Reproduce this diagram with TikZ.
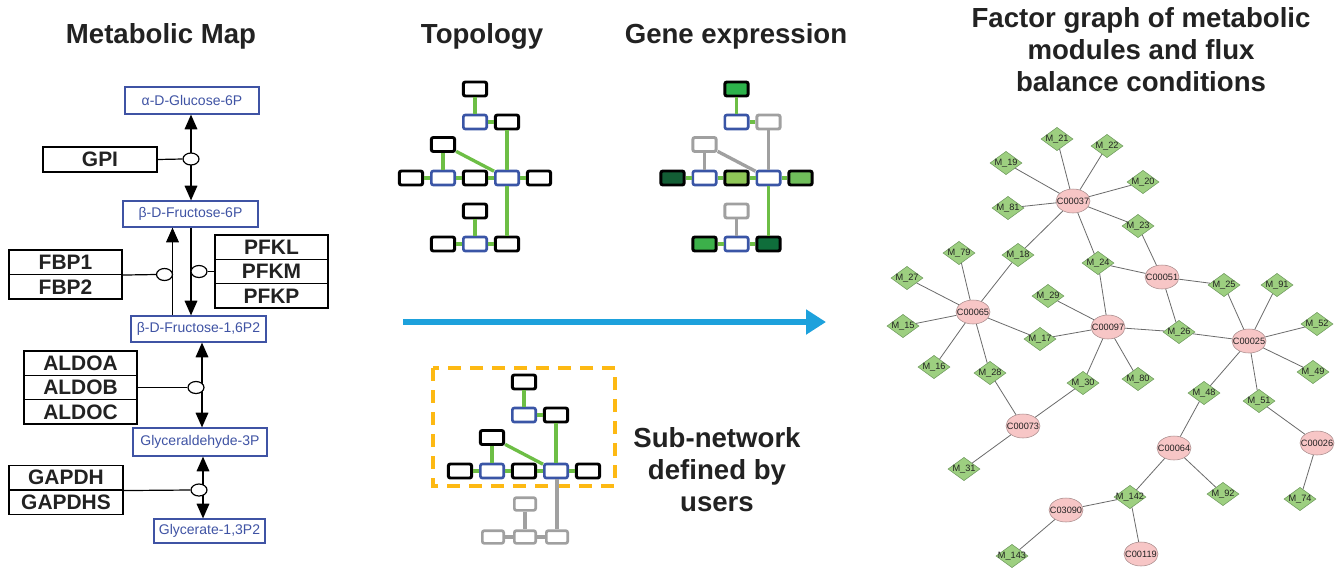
\documentclass[tikz,border=0pt]{standalone}
\usepackage{fontspec}
\setmainfont{Liberation Sans}
\usetikzlibrary{arrows.meta,shapes.geometric,calc}

\definecolor{ink}{HTML}{222222}
\definecolor{metblue}{HTML}{3F53A4}
\definecolor{nodeblue}{HTML}{3A55A6}
\definecolor{linkgreen}{HTML}{6DBE45}
\definecolor{linkgray}{HTML}{A0A0A0}
\definecolor{flowblue}{HTML}{1DA1DC}
\definecolor{userorange}{HTML}{FDB913}
\definecolor{modfill}{HTML}{9DCF80}
\definecolor{moddraw}{HTML}{6F9A5E}
\definecolor{cpdfill}{HTML}{F7C6C6}
\definecolor{cpddraw}{HTML}{A88C8C}
\definecolor{factoredge}{HTML}{6B6B6B}
\definecolor{exA}{HTML}{2DB34B}
\definecolor{exB}{HTML}{135E35}
\definecolor{exC}{HTML}{8FC757}
\definecolor{exD}{HTML}{6FBE5A}
\definecolor{exE}{HTML}{3CB04A}
\definecolor{exF}{HTML}{0F6E3B}

\tikzset{
  title/.style={font=\bfseries\fontsize{20.7}{24}\selectfont, text=ink, inner sep=0, align=center},
  metab/.style 2 args={draw=metblue, line width=0.9pt, fill=white, text=metblue,
    font=\fontsize{10.5}{12}\selectfont, inner sep=0,
    minimum width=#1*0.75pt, minimum height=#2*0.75pt},
  gene/.style 2 args={draw=black, line width=0.9pt, fill=white, text=ink,
    font=\bfseries\fontsize{15.7}{18}\selectfont, inner sep=0,
    minimum width=#1*0.75pt, minimum height=#2*0.75pt},
  enz/.style={ellipse, draw=black, line width=0.9pt, fill=white,
    minimum width=12pt, minimum height=9pt, inner sep=0},
  rxn/.style={draw=black, line width=0.9pt, >={Triangle[width=9.5pt,length=11pt]}},
  tbox/.style={rectangle, rounded corners=1.5pt, draw=black, line width=2.2pt, fill=white,
    minimum width=17.5pt, minimum height=10.5pt, inner sep=0},
  tblue/.style={tbox, draw=nodeblue, line width=2pt},
  tgray/.style={tbox, draw=linkgray},
  tsmall/.style={tbox, draw=linkgray, minimum width=16pt, minimum height=9.5pt, line width=2pt},
  glink/.style={draw=linkgreen, line width=2.5pt},
  ylink/.style={draw=linkgray, line width=2.5pt},
  fmod/.style={diamond, draw=moddraw, line width=0.4pt, fill=modfill,
    minimum width=24pt, minimum height=17.5pt, inner sep=0,
    font=\fontsize{6.9}{7}\selectfont, text=ink},
  fcpd/.style={ellipse, draw=cpddraw, line width=0.4pt, fill=cpdfill,
    minimum width=25.5pt, minimum height=18pt, inner sep=0,
    font=\fontsize{6.9}{7}\selectfont, text=ink},
  fedge/.style={draw=factoredge, line width=0.6pt}
}

\begin{document}
\begin{tikzpicture}[x=0.75pt,y=-0.75pt]
\fill[white] (0,0) rectangle (1343,569);
\useasboundingbox (0,0) rectangle (1343,569);

% ---------- headings ----------
\node[title, anchor=base] (hmap) at (161,43) {Metabolic Map};
\node[title, anchor=base] (htopo) at (482,43) {Topology};
\node[title, anchor=base] (hexpr) at (736,43) {Gene expression};
\node[title] (hfactor) at (1141,50) {Factor graph of metabolic\\modules and flux\\balance conditions};
\node[title] (hsub) at (717,470) {Sub-network\\defined by\\users};

% ---------- metabolic map: metabolites ----------
\node[metab={134}{27}] (glc) at (192,100.5) {α-D-Glucose-6P};
\node[metab={135}{26}] (f6p) at (190.5,214) {β-D-Fructose-6P};
\node[metab={135}{26}] (f16) at (198.5,329) {β-D-Fructose-1,6P2};
\node[metab={134}{28}] (g3p) at (200,442) {Glyceraldehyde-3P};
\node[metab={111}{24}] (g13) at (209.5,531) {Glycerate-1,3P2};

% ---------- metabolic map: enzymes ----------
\node[gene={114}{25}] (gpi) at (100,159.5) {GPI};
\node[gene={113}{24.5}] (fbp1) at (65.5,262.2) {FBP1};
\node[gene={113}{24.5}] (fbp2) at (65.5,286.7) {FBP2};
\node[gene={113}{24.3}] (pfkl) at (271.5,247.2) {PFKL};
\node[gene={113}{24.3}] (pfkm) at (271.5,271.5) {PFKM};
\node[gene={113}{24.3}] (pfkp) at (271.5,295.8) {PFKP};
\node[gene={113}{24.3}] (aldoa) at (80.5,363.2) {ALDOA};
\node[gene={113}{24.3}] (aldob) at (80.5,387.5) {ALDOB};
\node[gene={113}{24.3}] (aldoc) at (80.5,411.8) {ALDOC};
\node[gene={114}{24.5}] (gapdh) at (66,477.7) {GAPDH};
\node[gene={114}{24.5}] (gapdhs) at (66,502.2) {GAPDHS};

% reaction hubs and the axes of the reaction lines
\coordinate (cgpi) at (191,159);
\coordinate (cfbp) at (164.5,274.5);
\coordinate (cpfk) at (199,271.5);
\coordinate (caldo) at (196,387.5);
\coordinate (cgap) at (199,490);
\coordinate (fbpline) at (172.5,274.5);
\coordinate (pfkline) at (191,271.5);
\coordinate (aldoline) at (202,387.5);
\coordinate (gapline) at (203,490);

% reaction lines
\draw[rxn,<->] (cgpi |- glc.south) -- (cgpi |- f6p.north);
\draw[rxn,->] (fbpline |- f16.north) -- (fbpline |- f6p.south);
\draw[rxn,->] (pfkline |- f6p.south) -- (pfkline |- f16.north);
\draw[rxn,<->] (aldoline |- f16.south) -- (aldoline |- g3p.north);
\draw[rxn,<->] (gapline |- g3p.south) -- (gapline |- g13.north);
\node[enz] (egpi) at (cgpi) {};
\node[enz] (efbp) at (cfbp) {};
\node[enz] (epfk) at (cpfk) {};
\node[enz] (ealdo) at (caldo) {};
\node[enz] (egap) at (cgap) {};
\draw[rxn] (gpi.east) -- (egpi.west);
\draw[rxn] (fbp1.south east) -- (efbp.west);
\draw[rxn] (epfk.east) -- (epfk.east -| pfkm.west);
\draw[rxn] (aldob.east) -- (ealdo.west);
\draw[rxn] (gapdh.south east) -- (egap.west);

% ---------- topology ----------
\node[tbox]  (t1)  at (475,89) {};
\node[tblue] (t2)  at (475,122) {};
\node[tbox]  (t3)  at (507,122) {};
\node[tbox]  (t4)  at (443,144.5) {};
\node[tbox]  (t5)  at (411,178) {};
\node[tblue] (t6)  at (443,178) {};
\node[tbox]  (t7)  at (475,178) {};
\node[tblue] (t8)  at (507,178) {};
\node[tbox]  (t9)  at (539,178) {};
\node[tbox]  (t10) at (475,211) {};
\node[tbox]  (t11) at (443,244) {};
\node[tblue] (t12) at (475,244) {};
\node[tbox]  (t13) at (507,244) {};
\foreach \a/\b in {t1/t2,t2/t3,t3/t8,t4/t6,t4/t8,t5/t6,t6/t7,t7/t8,t8/t9,t8/t13,t10/t12,t11/t12,t12/t13}
  \draw[glink] (\a) -- (\b);

% ---------- gene expression ----------
\begin{scope}[shift={(261.5,0)}]
\node[tbox, fill=exA] (g1)  at (475,89) {};
\node[tblue]          (g2)  at (475,122) {};
\node[tgray]          (g3)  at (507,122) {};
\node[tgray]          (g4)  at (443,144.5) {};
\node[tbox, fill=exB] (g5)  at (411,178) {};
\node[tblue]          (g6)  at (443,178) {};
\node[tbox, fill=exC] (g7)  at (475,178) {};
\node[tblue]          (g8)  at (507,178) {};
\node[tbox, fill=exD] (g9)  at (539,178) {};
\node[tgray]          (g10) at (475,211) {};
\node[tbox, fill=exE] (g11) at (443,244) {};
\node[tblue]          (g12) at (475,244) {};
\node[tbox, fill=exF] (g13) at (507,244) {};
\end{scope}
\foreach \a/\b in {g1/g2,g2/g3,g5/g6,g6/g7,g7/g8,g8/g9,g8/g13,g11/g12,g12/g13}
  \draw[glink] (\a) -- (\b);
\foreach \a/\b in {g3/g8,g4/g6,g4/g8,g10/g12}
  \draw[ylink] (\a) -- (\b);

% ---------- flow arrow ----------
\coordinate (flowA) at (403,322);
\coordinate (flowB) at (826,322);
\draw[flowblue, line width=3.8pt, -{Triangle[width=18pt,length=15pt]}] (flowA) -- (flowB);

% ---------- user-defined sub-network ----------
\draw[userorange, line width=3pt, dash pattern=on 10pt off 6.5pt] (433,368) rectangle (615,486);
\begin{scope}[shift={(49,293)}]
\node[tbox]  (s1) at (475,89) {};
\node[tblue] (s2) at (475,122) {};
\node[tbox]  (s3) at (507,122) {};
\node[tbox]  (s4) at (443,144.5) {};
\node[tbox]  (s5) at (411,178) {};
\node[tblue] (s6) at (443,178) {};
\node[tbox]  (s7) at (475,178) {};
\node[tblue] (s8) at (507,178) {};
\node[tbox]  (s9) at (539,178) {};
\end{scope}
\node[tsmall] (u1) at (525,504) {};
\node[tsmall] (u2) at (493,537) {};
\node[tsmall] (u3) at (525,537) {};
\node[tsmall] (u4) at (557,537) {};
\foreach \a/\b in {s1/s2,s2/s3,s3/s8,s4/s6,s4/s8,s5/s6,s6/s7,s7/s8,s8/s9}
  \draw[glink] (\a) -- (\b);
\draw[ylink] (s8.south -| u4) -- (u4);
\foreach \a/\b in {u1/u3,u2/u3,u3/u4}
  \draw[ylink] (\a) -- (\b);

% ---------- factor graph ----------
\foreach \n/\p/\t in {
  m21/{1057,139}/M\_21, m22/{1107,146}/M\_22, m19/{1006,163}/M\_19,
  m20/{1143,182}/M\_20, m81/{1008,208}/M\_81, m23/{1138,226}/M\_23,
  m18/{1018,255}/M\_18, m24/{1098,263}/M\_24, m79/{959,253}/M\_79,
  m27/{907,278}/M\_27, m25/{1224,285}/M\_25, m91/{1277,285}/M\_91,
  m29/{1048,296}/M\_29, m15/{903,326}/M\_15, m17/{1040,339}/M\_17,
  m26/{1179,332}/M\_26, m52/{1317,324}/M\_52, m16/{934,367}/M\_16,
  m28/{990,373}/M\_28, m30/{1083,383}/M\_30, m80/{1138,379}/M\_80,
  m49/{1313,372}/M\_49, m48/{1204,393}/M\_48, m51/{1259,401}/M\_51,
  m31/{964,469}/M\_31, m92/{1223,494}/M\_92, m74/{1300,499}/M\_74,
  m142/{1130,497}/M\_142, m143/{1012,556}/M\_143}
  \node[fmod] (\n) at (\p) {\makebox[0pt]{\t}};
\foreach \n/\p/\t in {
  c00037/{1073,201}/C00037, c00051/{1162,277}/C00051, c00065/{973,312}/C00065,
  c00097/{1108,327}/C00097, c00025/{1249,341}/C00025, c00073/{1023,426}/C00073,
  c00064/{1174,448}/C00064, c00026/{1317,443}/C00026, c03090/{1066,510}/C03090,
  c00119/{1141,554}/C00119}
  \node[fcpd] (\n) at (\p) {\makebox[0pt]{\t}};
\foreach \a/\b in {
  c00037/m21, c00037/m22, c00037/m19, c00037/m20, c00037/m81, c00037/m23, c00037/m18, c00037/m24,
  c00051/m23, c00051/m24, c00051/m25, c00051/m26,
  c00065/m18, c00065/m79, c00065/m27, c00065/m15, c00065/m16, c00065/m28, c00065/m17,
  c00097/m24, c00097/m17, c00097/m29, c00097/m26, c00097/m30, c00097/m80,
  c00025/m26, c00025/m25, c00025/m91, c00025/m52, c00025/m49, c00025/m48, c00025/m51,
  c00073/m28, c00073/m30, c00073/m31,
  c00064/m48, c00064/m92, c00064/m142,
  c00026/m51, c00026/m74,
  c03090/m142, c03090/m143, c00119/m142}
  \draw[fedge] (\a) -- (\b);
\end{tikzpicture}
\end{document}
